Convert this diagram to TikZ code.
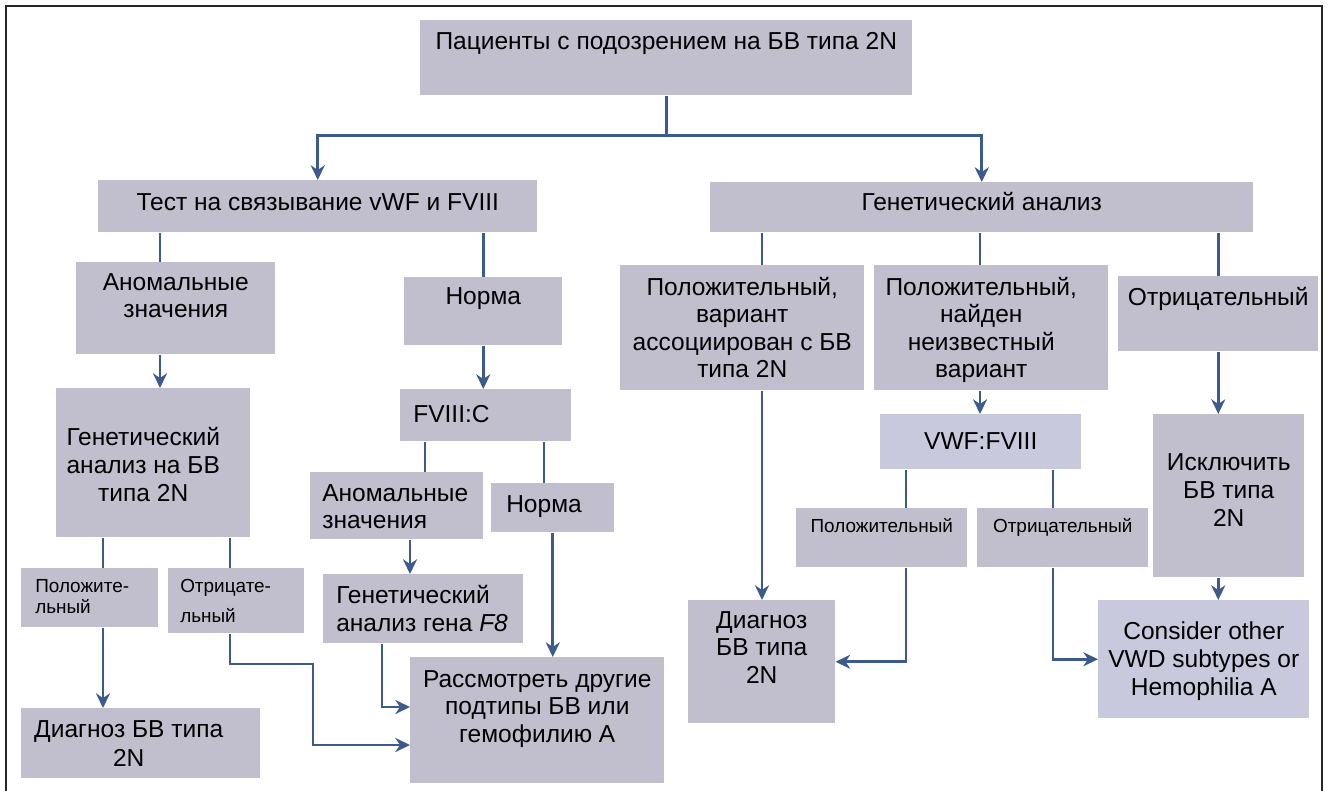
\documentclass[tikz,border=0pt]{standalone}
\usepackage{fontspec}
\setmainfont{Liberation Sans}
\usetikzlibrary{arrows.meta}
\definecolor{boxgray}{HTML}{C1BFCD}
\definecolor{boxlight}{HTML}{C8C9DD}
\definecolor{linkblue}{HTML}{3C5A8C}
\newlength\pxu
\setlength\pxu{0.75pt}
% box text: width, height, first baseline, alignment, text (all in px)
\newcommand\bx[5]{\parbox[c][#2\pxu][t]{#1\pxu}{#4\rule{0pt}{#3\pxu}#5\par}}
\newcommand\lft[1]{\raggedright\leftskip=#1\pxu\relax}
\newcommand\ctr[2]{\centering\leftskip=#1\pxu plus 1fil\rightskip=#2\pxu plus 1fil\relax}

\tikzset{
  blk/.style={fill=boxgray, inner sep=0pt, anchor=north west, font=\fontsize{18.4}{20.6}\selectfont},
  blklight/.style={blk, fill=boxlight},
  smalltxt/.style={font=\fontsize{14.2}{16}\selectfont},
  ln/.style={draw=linkblue, line width=2pt},
  arr/.style={ln, -{Stealth[length=11pt,width=10.5pt,inset=3.5pt]}},
}

\begin{document}
\begin{tikzpicture}[x=0.75pt, y=-0.75pt]
  \useasboundingbox (0,0) rectangle (1331,791);
  \draw[line width=1.5pt, draw=black!85] (6,791) -- (6,6) -- (1322,6) -- (1322,791);

  % top
  \node[blk] (top) at (420,20) {\bx{492}{75}{29}{\centering}{Пациенты с подозрением на БВ типа 2N}};
  \node[blk] (test) at (98,180) {\bx{439}{52}{30}{\centering}{Тест на связывание vWF и FVIII}};
  \node[blk] (gen) at (710,182) {\bx{543}{50}{28}{\centering}{Генетический анализ}};

  % left branch
  \node[blk] (anom1) at (76,262) {\bx{199}{92}{28}{\centering}{Аномальные\\значения}};
  \node[blk] (norm1) at (404,277) {\bx{158}{68}{27}{\centering}{Норма}};
  \node[blk] (gen2n) at (56,388) {\bx{194}{149}{57}{\ctr{0}{20}\baselineskip=21pt}{Генетический\\анализ на БВ\\типа 2N}};
  \node[blk] (fviii) at (400,389) {\bx{171}{52}{33}{\lft{13}}{FVIII:C}};
  \node[blk] (anom2) at (310,472) {\bx{173}{67}{29}{\lft{12}}{Аномальные\\значения}};
  \node[blk] (norm2) at (491,483) {\bx{123}{49}{29}{\lft{15}}{Норма}};
  \node[blk] (f8) at (323,574) {\bx{200}{69}{29}{\lft{13}\baselineskip=21pt}{Генетический\\анализ гена \textit{F8}}};
  \node[blk] (cons) at (410,657) {\bx{254}{126}{30}{\centering}{Рассмотреть другие\\подтипы БВ или\\гемофилию А}};
  \node[blk, smalltxt] (pos1) at (21,568) {\bx{137}{59}{24}{\lft{14}\baselineskip=15.75pt}{Положите-\\льный}};
  \node[blk, smalltxt] (neg1) at (168,568) {\bx{136}{65}{24}{\lft{12}\baselineskip=22.5pt}{Отрицате-\\льный}};
  \node[blk] (diag1) at (21,708) {\bx{239}{70}{29}{\ctr{12}{36}\baselineskip=21.75pt}{Диагноз БВ типа\\2N}};

  % right branch
  \node[blk] (posA) at (620,265) {\bx{244}{125}{30}{\centering}{Положительный,\\вариант\\ассоциирован с БВ\\типа 2N}};
  \node[blk] (posB) at (874,265) {\bx{234}{125}{30}{\ctr{0}{20}}{Положительный,\\найден\\неизвестный\\вариант}};
  \node[blk] (negR) at (1118,276) {\bx{200}{75}{29}{\centering}{Отрицательный}};
  \node[blklight] (vwf) at (880,414) {\bx{201}{55}{35}{\centering}{VWF:FVIII}};
  \node[blk, smalltxt] (posS) at (796,508) {\bx{171}{59}{24}{\centering}{Положительный}};
  \node[blk, smalltxt] (negS) at (977,508) {\bx{171}{59}{24}{\centering}{Отрицательный}};
  \node[blk] (excl) at (1153,414) {\bx{151}{163}{56}{\centering\baselineskip=21pt}{Исключить\\БВ типа\\2N}};
  \node[blklight] (cons2) at (1098,600) {\bx{211}{118}{39}{\centering\baselineskip=21pt}{Consider other\\VWD subtypes or\\Hemophilia A}};
  \node[blk] (diag2) at (688,600) {\bx{147}{123}{28}{\centering}{Диагноз\\БВ типа\\2N}};

  % trunk positions
  \coordinate (xA) at (160,0);
  \coordinate (xB) at (103,0);
  \coordinate (xC) at (230,0);
  \coordinate (xD) at (425,0);
  \coordinate (xE) at (544,0);
  \coordinate (xF) at (410,0);
  \coordinate (xG) at (382,0);
  \coordinate (xH) at (762,0);
  \coordinate (xI) at (980,0);
  \coordinate (xJ) at (906,0);
  \coordinate (xK) at (1053,0);
  \coordinate (yk) at (0,707);
  \coordinate (yl) at (0,745);
  \coordinate (bend) at (313,664);

  % connectors
  \draw[arr] (top.south) -- ++(0,40) -| (test.north);
  \draw[arr] (top.south) -- ++(0,40) -| (gen.north);

  \draw[ln] (test.south -| xA) -- (anom1.north -| xA);
  \draw[ln] (test.south -| norm1.north) -- (norm1.north);
  \draw[arr] (anom1.south -| xA) -- (gen2n.north -| xA);
  \draw[arr] (norm1.south) -- (fviii.north -| norm1.south);
  \draw[ln] (fviii.south -| xD) -- (anom2.north -| xD);
  \draw[ln] (fviii.south -| xE) -- (norm2.north -| xE);
  \draw[arr] (anom2.south -| xF) -- (f8.north -| xF);
  \draw[arr] (norm2.south) -- (cons.north -| norm2.south);
  \draw[arr] (f8.south -| xG) |- (cons.west |- yk);
  \draw[arr] (neg1.south -| xC) |- (bend) |- (cons.west |- yl);
  \draw[ln] (gen2n.south -| xB) -- (pos1.north -| xB);
  \draw[ln] (gen2n.south -| xC) -- (neg1.north -| xC);
  \draw[arr] (pos1.south -| xB) -- (diag1.north -| xB);

  \draw[ln] (gen.south -| xH) -- (posA.north -| xH);
  \draw[ln] (gen.south -| xI) -- (posB.north -| xI);
  \draw[ln] (gen.south -| negR.north) -- (negR.north);
  \draw[arr] (posA.south -| xH) -- (diag2.north -| xH);
  \draw[arr] (posB.south -| xI) -- (vwf.north -| xI);
  \draw[ln] (vwf.south -| xJ) -- (posS.north -| xJ);
  \draw[ln] (vwf.south -| xK) -- (negS.north -| xK);
  \draw[arr] (posS.south -| xJ) |- (diag2.east);
  \draw[arr] (negS.south -| xK) |- (cons2.west);
  \draw[arr] (negR.south) -- (excl.north -| negR.south);
  \draw[arr] (excl.south -| negR.south) -- (cons2.north -| negR.south);
\end{tikzpicture}
\end{document}
